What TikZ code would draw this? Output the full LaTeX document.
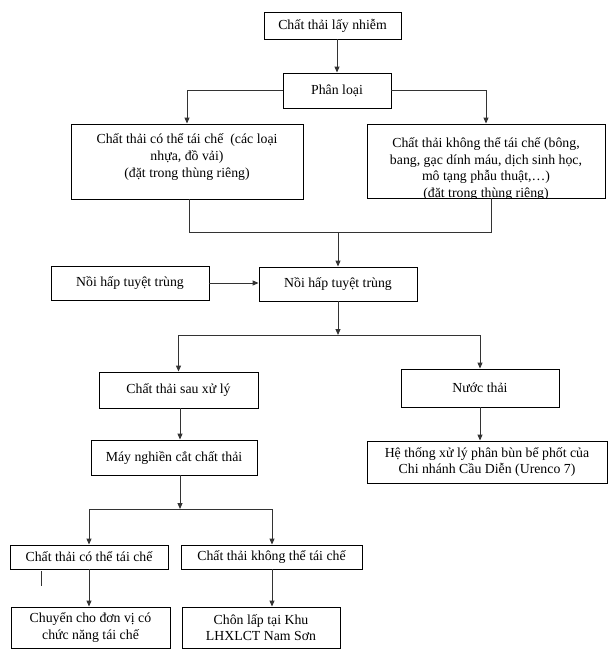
\documentclass[tikz,border=0pt]{standalone}
\usepackage{fontspec}
\setmainfont{Liberation Serif}
\usetikzlibrary{arrows.meta}
\newcommand{\myfs}{\fontsize{13.8}{16.6}\selectfont}
\begin{document}
\begin{tikzpicture}[x=1pt,y=-1pt,
  box/.style={draw=black, line width=0.9pt, inner sep=0pt, font=\myfs, align=center},
  txt/.style={inner sep=0pt, font=\myfs, align=center},
  con/.style={draw=black!80, line width=1pt},
  arr/.style={con, -{Triangle[length=6pt,width=5pt]}}]
\useasboundingbox (0,0) rectangle (613,659);

\node[box, minimum width=137pt, minimum height=27pt] (top) at (332.5,25.5) {Chất thải lấy nhiễm};
\node[box, minimum width=108pt, minimum height=35pt] (pl) at (337,90.5) {Phân loại};
\node[box, minimum width=232pt, minimum height=75pt] (lb) at (187,161.5) {};
\node[txt] (lbt) at (187,157) {Chất thải có thể tái chế\ \ (các loại\\ nhựa, đồ vải)\\ (đặt trong thùng riêng)};
\node[box, minimum width=238pt, minimum height=74pt] (rb) at (486,161) {};
\begin{scope}
\clip (rb.south west) rectangle (rb.north east);
\node[txt] (rbt) at (486,169) {Chất thải không thể tái chế (bông,\\ bang, gạc dính máu, dịch sinh học,\\ mô tạng phẫu thuật,…)\\ (đặt trong thùng riêng)};
\end{scope}

\node[box, minimum width=158pt, minimum height=34pt] (nh1) at (130,283) {Nồi hấp tuyệt trùng};
\node[box, minimum width=158pt, minimum height=34pt] (nh2) at (338,284) {Nồi hấp tuyệt trùng};
\node[box, minimum width=159pt, minimum height=36pt] (sau) at (178.5,390) {Chất thải sau xử lý};
\node[box, minimum width=158pt, minimum height=38pt] (nuoc) at (480,388) {Nước thải};
\node[box, minimum width=166pt, minimum height=35pt] (may) at (174,457.5) {Máy nghiền cắt chất thải};
\node[box, minimum width=240pt, minimum height=42pt] (he) at (487,462) {Hệ thống xử lý phân bùn bể phốt của\\ Chi nhánh Cầu Diễn (Urenco 7)};
\node[box, minimum width=158pt, minimum height=24pt] (b1) at (89,557) {Chất thải có thể tái chế};
\node[box, minimum width=181pt, minimum height=24pt] (b2) at (271.5,557) {Chất thải không thể tái chế};
\node[box, minimum width=159pt, minimum height=41pt] (c1) at (90.5,627.5) {Chuyển cho đơn vị có\\ chức năng tái chế};
\node[box, minimum width=158pt, minimum height=41pt] (c2) at (261,627.5) {Chôn lấp tại Khu\\ LHXLCT Nam Sơn};

\draw[arr] (pl.north |- top.south) -- (pl.north);
\draw[arr] (pl.west) -| (lb.north);
\draw[arr] (pl.east) -| (rb.north);

\coordinate (m) at (338,232);
\draw[con] ([xshift=2pt]lb.south) |- ([xshift=5pt]rb.south |- m) -- ([xshift=5pt]rb.south);
\draw[arr] (m) -- (nh2.north);
\draw[arr] (nh1.east) -- (nh1.east -| nh2.west);

\coordinate (s) at (338,335);
\draw[arr] (nh2.south) -- (s);
\draw[arr] (s) -| (sau.north);
\draw[arr] (s) -| (nuoc.north);

\draw[arr] ([xshift=1.5pt]sau.south) -- ([xshift=1.5pt]sau.south |- may.north);
\draw[arr] (nuoc.south) -- (nuoc.south |- he.north);

\coordinate (t) at (180,509);
\draw[arr] (may.south -| t) -- (t);
\draw[arr] (t) -| (b1.north);
\draw[arr] (t) -| ([xshift=0.5pt]b2.north);
\draw[arr] (b1.south) -- (b1.south |- c1.north);
\draw[arr] ([xshift=0.5pt]b2.south) -- ([xshift=0.5pt]b2.south |- c2.north);

\coordinate (sl) at (41,571);
\draw[con] (sl) -- ++(0,15);
\end{tikzpicture}
\end{document}
